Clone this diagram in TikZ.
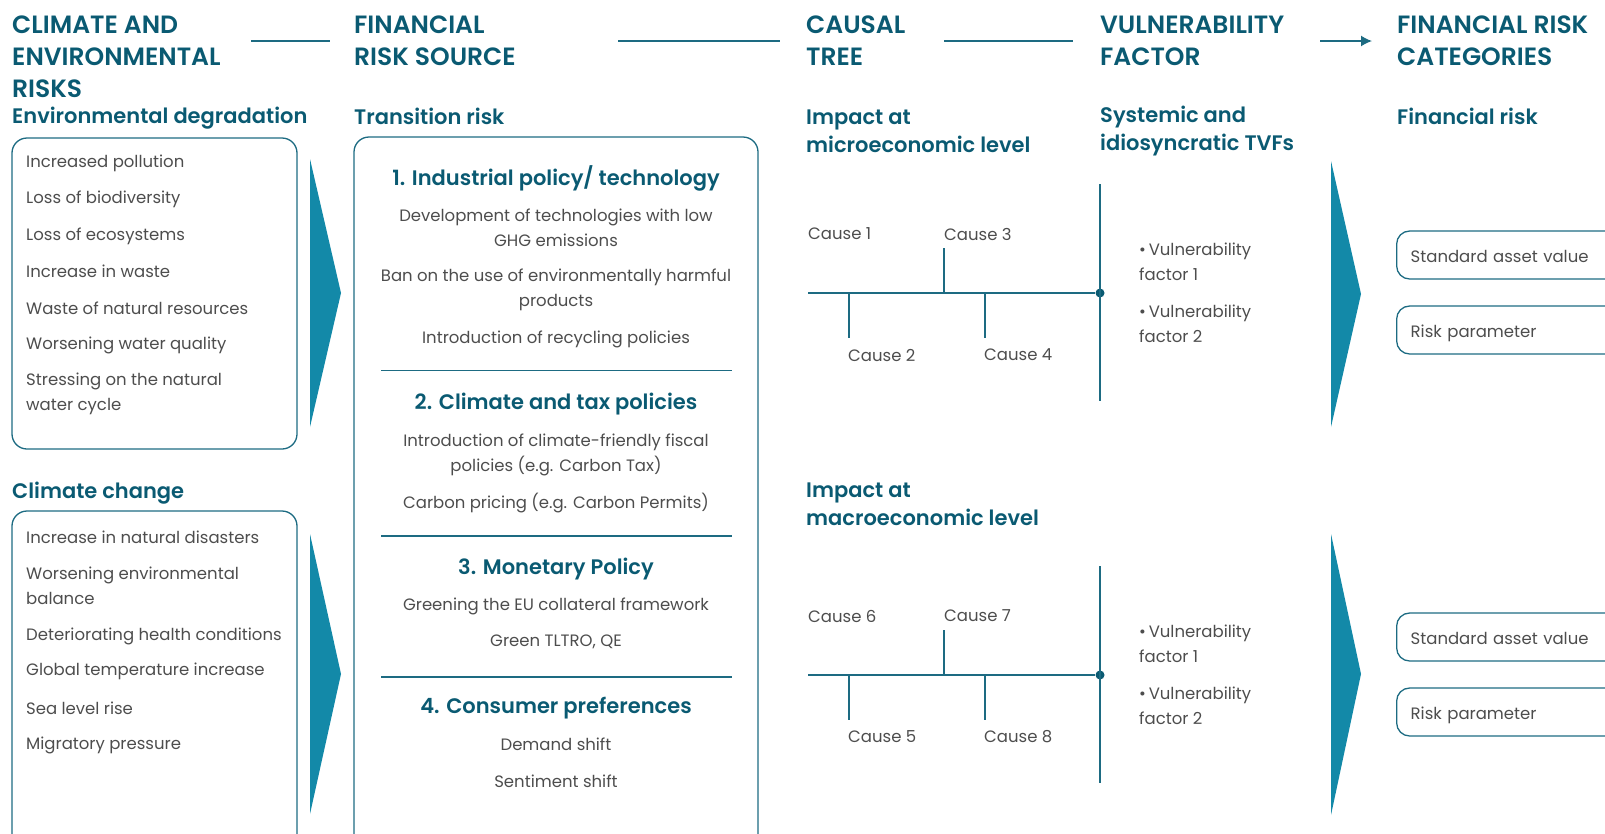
\documentclass[tikz,border=0pt]{standalone}
\usepackage{fontspec}
\setmainfont{Poppins}[BoldFont={Poppins SemiBold}]
\usetikzlibrary{arrows.meta,positioning}

\definecolor{deepteal}{HTML}{0A5A72}
\definecolor{lineteal}{HTML}{1D6B82}
\definecolor{wedgeteal}{HTML}{1389A8}
\definecolor{bodygray}{HTML}{4D4D4D}

\tikzset{
    title/.style={anchor=west,inner sep=0pt,align=left,text=deepteal,font=\fontsize{25}{32}\selectfont\bfseries},
    subtitle/.style={anchor=west,inner sep=0pt,align=left,yshift=-2pt,text=deepteal,font=\fontsize{21}{28}\selectfont\bfseries},
    policy/.style={anchor=center,inner sep=0pt,yshift=-2.5pt,text=deepteal,font=\fontsize{21}{28}\selectfont\bfseries},
    item/.style={anchor=west,inner sep=0pt,align=left,yshift=-2pt,text=bodygray,font=\fontsize{16.5}{25}\selectfont},
    citem/.style={item,anchor=center,align=center},
    panel/.style={draw=lineteal,line width=1.3pt,rounded corners=15pt},
    wedge/.style={fill=wedgeteal},
    treeline/.style={draw=lineteal,line width=1.5pt},
    junction/.style={circle,fill=deepteal,inner sep=0pt,minimum size=9pt},
    catbox/.style={draw=lineteal,line width=1.3pt,rounded corners=13pt,anchor=west,
        minimum height=48pt,inner xsep=14pt,text width=230pt,align=left,
        text height=15pt,text depth=0pt,text=bodygray,font=\fontsize{16.5}{25}\selectfont}
}

\begin{document}
\begin{tikzpicture}[x=1pt,y=-1pt]
    \useasboundingbox (0,0) rectangle (1605,833);

    %%%% Column titles ================================
    \node[title] (clim) at (12,57) {CLIMATE AND\\ENVIRONMENTAL\\RISKS};
    \node[title] (fin) at (354,41) {FINANCIAL\\RISK SOURCE};
    \node[title] (causal) at (806,41) {CAUSAL\\TREE};
    \node[title] (vuln) at (1100,41) {VULNERABILITY\\FACTOR};
    \node[title] (cats) at (1397,41) {FINANCIAL RISK\\CATEGORIES};

    % Links between titles
    \coordinate (l1a) at (251,41);
    \coordinate (l1b) at (330,41);
    \coordinate (l2a) at (618,41);
    \coordinate (l2b) at (780,41);
    \coordinate (l3a) at (944,41);
    \coordinate (l3b) at (1073,41);
    \coordinate (l4a) at (1320,41);
    \coordinate (l4b) at (1372,41);
    \draw[treeline] (l1a) -- (l1b);
    \draw[treeline] (l2a) -- (l2b);
    \draw[treeline] (l3a) -- (l3b);
    \draw[treeline,-{Latex[length=11pt,width=11pt]}] (l4a) -- (l4b);

    %%%% Climate and environmental risks ==============
    \node[subtitle] (envdeg) at (12,116) {Environmental degradation};
    \draw[panel] (12,138) rectangle (297,449);
    \node[item] (e1) at (26,161) {Increased pollution};
    \node[item] (e2) at (26,197) {Loss of biodiversity};
    \node[item] (e3) at (26,234) {Loss of ecosystems};
    \node[item] (e4) at (26,269) {Increase in waste};
    \node[item] (e5) at (26,306) {Waste of natural resources};
    \node[item] (e6) at (26,343) {Worsening water quality};
    \node[item] (e7) at (26,391.5) {Stressing on the natural\\water cycle};
    \fill[wedge] (310,159) -- (341,293) -- (310,427) -- cycle;

    \node[subtitle] (climchg) at (12,491) {Climate change};
    \draw[panel] (12,511) rectangle (297,860);
    \node[item] (k1) at (26,535) {Increase in natural disasters};
    \node[item] (k2) at (26,584) {Worsening environmental\\balance};
    \node[item] (k3) at (26,634) {Deteriorating health conditions};
    \node[item] (k4) at (26,669) {Global temperature increase};
    \node[item] (k5) at (26,706) {Sea level rise};
    \node[item] (k6) at (26,743) {Migratory pressure};
    \fill[wedge] (310,534) -- (341,674) -- (310,814) -- cycle;

    %%%% Financial risk source ========================
    \node[subtitle] (transrisk) at (354,114) {Transition risk};
    \draw[panel] (354,137) rectangle (758,860);

    \node[policy] (p1) at (556,176) {1. Industrial policy/ technology};
    \node[citem] (p1a) at (556,226) {Development of technologies with low\\GHG emissions};
    \node[citem] (p1b) at (556,287.5) {Ban on the use of environmentally harmful\\products};
    \node[citem] (p1c) at (556,337) {Introduction of recycling policies};
    \coordinate (s1a) at (381,370.5);
    \coordinate (s1b) at (732,370.5);
    \draw[treeline] (s1a) -- (s1b);

    \node[policy] (p2) at (556,402) {2. Climate and tax policies};
    \node[citem] (p2a) at (556,453) {Introduction of climate-friendly fiscal\\policies (e.g. Carbon Tax)};
    \node[citem] (p2b) at (556,501.5) {Carbon pricing (e.g. Carbon Permits)};
    \coordinate (s2a) at (381,536);
    \coordinate (s2b) at (732,536);
    \draw[treeline] (s2a) -- (s2b);

    \node[policy] (p3) at (556,567) {3. Monetary Policy};
    \node[citem] (p3a) at (556,604) {Greening the EU collateral framework};
    \node[citem] (p3b) at (556,640) {Green TLTRO, QE};
    \coordinate (s3a) at (381,677);
    \coordinate (s3b) at (732,677);
    \draw[treeline] (s3a) -- (s3b);

    \node[policy] (p4) at (556,706) {4. Consumer preferences};
    \node[citem] (p4a) at (556,742) {Demand shift};
    \node[citem] (p4b) at (556,779) {Sentiment shift};

    %%%% Causal trees and vulnerability ===============
    \node[subtitle] (micro) at (806,129) {Impact at\\microeconomic level};
    \node[subtitle] (tvf) at (1100,129) {Systemic and\\idiosyncratic TVFs};
    \node[subtitle] (finrisk) at (1397,114) {Financial risk};
    \node[subtitle] (macro) at (806,502.5) {Impact at\\macroeconomic level};

    \begin{scope}
        % Spine
        \coordinate (stem1) at (808,293);
        \node[junction] (root1) at (1100,293) {};
        \coordinate (top1) at (1100,184);
        \coordinate (bot1) at (1100,401);
        \draw[treeline] (stem1) -- (root1);
        \draw[treeline] (top1) -- (bot1);

        % Branches
        \coordinate (b3a) at (944,293);
        \coordinate (b3b) at (944,248);
        \coordinate (b2a) at (849,293);
        \coordinate (b2b) at (849,338);
        \coordinate (b4a) at (985,293);
        \coordinate (b4b) at (985,338);
        \draw[treeline] (b3a) -- (b3b);
        \draw[treeline] (b2a) -- (b2b);
        \draw[treeline] (b4a) -- (b4b);

        % Causes
        \node[item] (c1) at (808,232) {Cause 1};
        \node[item] (c3) at (944,232) {Cause 3};
        \node[item] (c2) at (848,353) {Cause 2};
        \node[item] (c4) at (984,353) {Cause 4};

        % Factors
        \node[item] (vf1) at (1139,260) {\textbullet\,Vulnerability\\factor 1};
        \node[item] (vf2) at (1139,321.5) {\textbullet\,Vulnerability\\factor 2};

        % Categories
        \node[catbox] (sav1) at (1396,255) {Standard asset value};
        \node[catbox] (rp1) at (1396,330) {Risk parameter};
    \end{scope}
    \fill[wedge] (1331,161) -- (1361,294) -- (1331,427) -- cycle;

    \begin{scope}[shift={(0,382)}]
        % Spine
        \coordinate (stem2) at (808,293);
        \node[junction] (root2) at (1100,293) {};
        \coordinate (top2) at (1100,184);
        \coordinate (bot2) at (1100,401);
        \draw[treeline] (stem2) -- (root2);
        \draw[treeline] (top2) -- (bot2);

        % Branches
        \coordinate (b7a) at (944,293);
        \coordinate (b7b) at (944,248);
        \coordinate (b5a) at (849,293);
        \coordinate (b5b) at (849,338);
        \coordinate (b8a) at (985,293);
        \coordinate (b8b) at (985,338);
        \draw[treeline] (b7a) -- (b7b);
        \draw[treeline] (b5a) -- (b5b);
        \draw[treeline] (b8a) -- (b8b);

        % Causes
        \node[item] (c6) at (808,232) {Cause 6};
        \node[item] (c7) at (944,232) {Cause 7};
        \node[item] (c5) at (848,353) {Cause 5};
        \node[item] (c8) at (984,353) {Cause 8};

        % Factors
        \node[item] (vf3) at (1139,260) {\textbullet\,Vulnerability\\factor 1};
        \node[item] (vf4) at (1139,321.5) {\textbullet\,Vulnerability\\factor 2};

        % Categories
        \node[catbox] (sav2) at (1396,255) {Standard asset value};
        \node[catbox] (rp2) at (1396,330) {Risk parameter};
    \end{scope}
    \fill[wedge] (1331,534) -- (1361,674) -- (1331,815) -- cycle;
\end{tikzpicture}
\end{document}
